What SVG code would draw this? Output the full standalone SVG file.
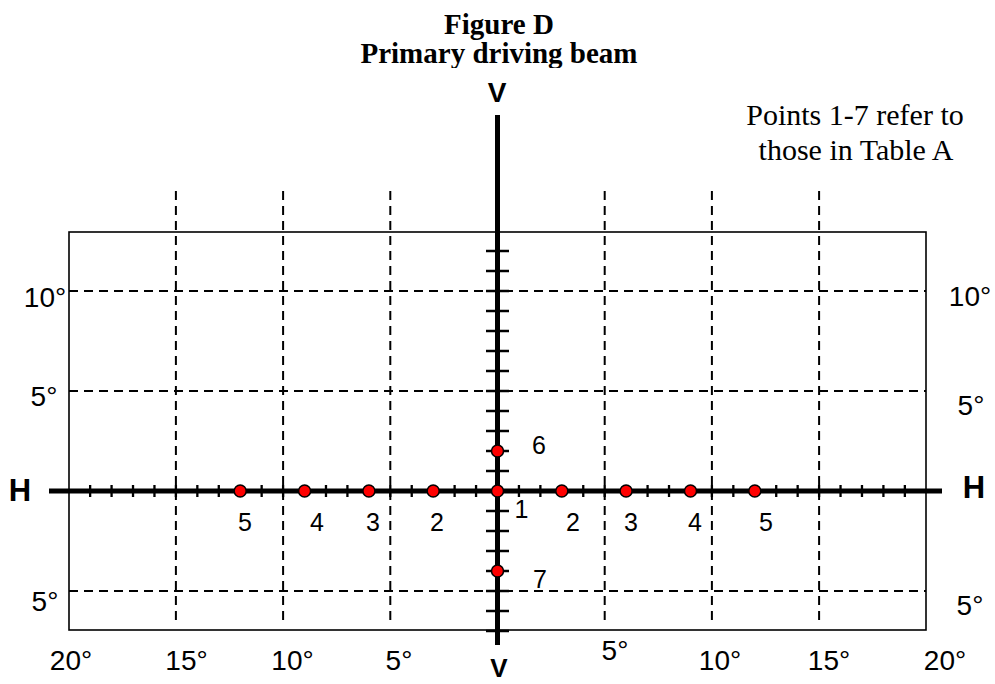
<svg xmlns="http://www.w3.org/2000/svg" width="995" height="684" viewBox="0 0 995 684">
  <style>
    .title { font-family: "Liberation Serif", "Times New Roman", serif; font-weight: bold; font-size: 29px; text-anchor: middle; }
    .note { font-family: "Liberation Serif", "Times New Roman", serif; font-size: 30px; text-anchor: middle; }
    .deg { font-family: "Liberation Sans", Arial, sans-serif; font-size: 28px; text-anchor: middle; }
    .num { font-family: "Liberation Sans", Arial, sans-serif; font-size: 25px; text-anchor: middle; }
    .axlab { font-family: "Liberation Sans", Arial, sans-serif; font-weight: bold; text-anchor: middle; }
    .frame { fill: none; stroke: #000; stroke-width: 1.6; }
    .dash { fill: none; stroke: #000; stroke-width: 2; stroke-dasharray: 9 6; }
    .axis { fill: none; stroke: #000; stroke-width: 5; }
    .tick { fill: none; stroke: #000; stroke-width: 2.3; }
    .pt { fill: #ff0000; stroke: #000; stroke-width: 1.5; }
  </style>
  <defs>
    <clipPath id="titleClip"><rect x="0" y="0" width="995" height="68"/></clipPath>
  </defs>
  <rect width="995" height="684" fill="#fff"/>

  <g id="title" clip-path="url(#titleClip)">
    <text class="title" x="499" y="34">Figure D</text>
    <text class="title" x="499" y="63">Primary driving beam</text>
  </g>

  <g id="note">
    <text class="note" x="855" y="125">Points 1-7 refer to</text>
    <text class="note" x="856" y="160">those in Table A</text>
  </g>

  <g id="frame">
    <rect class="frame" x="69" y="232" width="857" height="398"/>
  </g>

  <g id="grid">
    <path class="dash" d="M175.9 191 V622 M283.1 191 V622 M390.3 191 V622 M604.7 191 V622 M711.9 191 V622 M819.1 191 V622"/>
    <path class="dash" d="M69 291 H926 M69 391 H926 M69 591 H926"/>
  </g>

  <g id="connectors">
    <path class="axis" d="M49 491 H942"/>
    <path class="axis" d="M497.5 115 V645"/>
    <path class="tick" d="M90.14 485 V497 M111.58 485 V497 M133.02 485 V497 M154.46 485 V497 M175.9 485 V497 M197.34 485 V497 M218.78 485 V497 M240.22 485 V497 M261.66 485 V497 M283.1 485 V497 M304.54 485 V497 M325.98 485 V497 M347.42 485 V497 M368.86 485 V497 M390.3 485 V497 M411.74 485 V497 M433.18 485 V497 M454.62 485 V497 M476.06 485 V497 M518.94 485 V497 M540.38 485 V497 M561.82 485 V497 M583.26 485 V497 M604.7 485 V497 M626.14 485 V497 M647.58 485 V497 M669.02 485 V497 M690.46 485 V497 M711.9 485 V497 M733.34 485 V497 M754.78 485 V497 M776.22 485 V497 M797.66 485 V497 M819.1 485 V497 M840.54 485 V497 M861.98 485 V497 M883.42 485 V497 M904.86 485 V497"/>
    <path class="tick" d="M486 251 H509 M486 271 H509 M486 291 H509 M486 311 H509 M486 331 H509 M486 351 H509 M486 371 H509 M486 391 H509 M486 411 H509 M486 431 H509 M486 451 H509 M486 471 H509 M486 511 H509 M486 531 H509 M486 551 H509 M486 571 H509 M486 591 H509 M486 611 H509 M486 631 H509"/>
  </g>

  <g id="points">
    <circle id="p5L" class="pt" cx="240.2" cy="491" r="6"/>
    <circle id="p4L" class="pt" cx="304.6" cy="491" r="6"/>
    <circle id="p3L" class="pt" cx="368.9" cy="491" r="6"/>
    <circle id="p2L" class="pt" cx="433.2" cy="491" r="6"/>
    <circle id="p1" class="pt" cx="497.5" cy="491" r="6"/>
    <circle id="p2R" class="pt" cx="561.8" cy="491" r="6"/>
    <circle id="p3R" class="pt" cx="626.1" cy="491" r="6"/>
    <circle id="p4R" class="pt" cx="690.5" cy="491" r="6"/>
    <circle id="p5R" class="pt" cx="754.8" cy="491" r="6"/>
    <circle id="p6" class="pt" cx="497.5" cy="451" r="6"/>
    <circle id="p7" class="pt" cx="497.5" cy="571" r="6"/>
  </g>

  <g id="point-labels">
    <text class="num" x="245" y="531">5</text>
    <text class="num" x="317" y="531">4</text>
    <text class="num" x="373" y="531">3</text>
    <text class="num" x="437" y="531">2</text>
    <text class="num" x="521.5" y="518">1</text>
    <text class="num" x="573" y="531">2</text>
    <text class="num" x="631" y="531">3</text>
    <text class="num" x="695" y="531">4</text>
    <text class="num" x="766" y="531">5</text>
    <text class="num" x="539" y="454">6</text>
    <text class="num" x="540" y="588">7</text>
  </g>

  <g id="axis-labels">
    <text class="axlab" x="497" y="102" font-size="28">V</text>
    <text class="axlab" x="499" y="677" font-size="26">V</text>
    <text class="axlab" x="20" y="501" font-size="31">H</text>
    <text class="axlab" x="974" y="498" font-size="31">H</text>
  </g>

  <g id="degree-labels">
    <text class="deg" x="45" y="307">10°</text>
    <text class="deg" x="44" y="406">5°</text>
    <text class="deg" x="45" y="611">5°</text>
    <text class="deg" x="970" y="306">10°</text>
    <text class="deg" x="971" y="415">5°</text>
    <text class="deg" x="970" y="615">5°</text>
    <text class="deg" x="71" y="670">20°</text>
    <text class="deg" x="186.5" y="670">15°</text>
    <text class="deg" x="292.5" y="670">10°</text>
    <text class="deg" x="399" y="670">5°</text>
    <text class="deg" x="615" y="660">5°</text>
    <text class="deg" x="720" y="670">10°</text>
    <text class="deg" x="829" y="670">15°</text>
    <text class="deg" x="945" y="670">20°</text>
  </g>
</svg>
